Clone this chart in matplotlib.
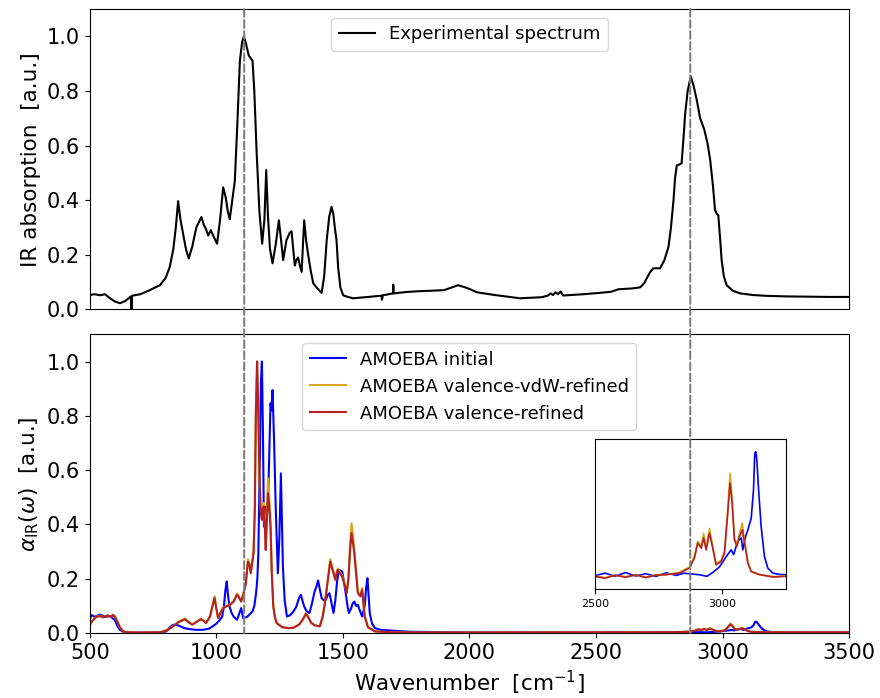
import matplotlib
matplotlib.use('Agg')
import matplotlib.pyplot as plt
from matplotlib.patches import ConnectionPatch

# experimental spectrum (top panel)
exp_x = [500, 520, 540, 560, 580, 600, 619, 640, 660, 664,
         665, 666, 670, 700, 737, 777, 800, 816, 830, 840,
         849, 858, 868, 880, 891, 905, 921, 941, 950, 958,
         968, 978, 990, 1003, 1015, 1027, 1037, 1045, 1053, 1063,
         1073, 1083, 1093, 1102, 1109, 1118, 1128, 1143, 1150, 1159,
         1170, 1181, 1190, 1197, 1204, 1212, 1222, 1235, 1247, 1255,
         1264, 1277, 1290, 1297, 1304, 1310, 1316, 1323, 1330, 1337,
         1347, 1355, 1363, 1373, 1383, 1400, 1416, 1426, 1436, 1446,
         1455, 1462, 1468, 1475, 1481, 1490, 1501, 1520, 1540, 1600,
         1653, 1654, 1658, 1698, 1699, 1700, 1750, 1800, 1856, 1900,
         1930, 1955, 1990, 2030, 2100, 2150, 2200, 2285, 2310, 2320,
         2330, 2340, 2350, 2360, 2370, 2384, 2450, 2516, 2560, 2588,
         2640, 2674, 2690, 2700, 2713, 2726, 2740, 2753, 2770, 2786,
         2796, 2806, 2812, 2819, 2828, 2838, 2845, 2852, 2862, 2874,
         2885, 2898, 2911, 2927, 2940, 2951, 2962, 2970, 2977, 2983,
         2990, 2996, 3005, 3016, 3040, 3069, 3120, 3174, 3250, 3350,
         3420, 3500]
exp_y = [0.052, 0.055, 0.051, 0.055, 0.040, 0.028, 0.022, 0.030, 0.045, 0.047,
         0.0, 0.047, 0.050, 0.055, 0.070, 0.088, 0.115, 0.155, 0.220, 0.300,
         0.396, 0.330, 0.280, 0.220, 0.186, 0.230, 0.300, 0.338, 0.310, 0.296,
         0.270, 0.290, 0.265, 0.240, 0.330, 0.447, 0.410, 0.360, 0.330, 0.400,
         0.470, 0.680, 0.910, 0.980, 1.000, 0.970, 0.930, 0.910, 0.800, 0.580,
         0.360, 0.240, 0.330, 0.510, 0.340, 0.220, 0.168, 0.240, 0.326, 0.260,
         0.180, 0.253, 0.280, 0.286, 0.220, 0.160, 0.180, 0.190, 0.160, 0.137,
         0.326, 0.250, 0.198, 0.140, 0.095, 0.075, 0.060, 0.120, 0.253, 0.340,
         0.375, 0.350, 0.300, 0.250, 0.155, 0.080, 0.051, 0.045, 0.040, 0.045,
         0.050, 0.035, 0.051, 0.058, 0.090, 0.058, 0.063, 0.066, 0.068, 0.070,
         0.080, 0.088, 0.078, 0.062, 0.052, 0.046, 0.040, 0.044, 0.050, 0.058,
         0.052, 0.062, 0.055, 0.065, 0.050, 0.051, 0.055, 0.060, 0.064, 0.073,
         0.076, 0.080, 0.095, 0.113, 0.135, 0.150, 0.150, 0.150, 0.180, 0.228,
         0.300, 0.400, 0.480, 0.527, 0.530, 0.535, 0.620, 0.717, 0.800, 0.853,
         0.820, 0.766, 0.700, 0.660, 0.610, 0.546, 0.450, 0.363, 0.350, 0.344,
         0.260, 0.180, 0.120, 0.088, 0.068, 0.058, 0.052, 0.049, 0.047, 0.046,
         0.045, 0.045]

# AMOEBA initial (blue)
ini_x = [500, 507, 520, 540, 560, 580, 598, 610, 619, 635,
         646, 700, 780, 802, 815, 830, 845, 857, 875, 891,
         920, 946, 970, 986, 1000, 1014, 1023, 1030, 1036, 1041,
         1046, 1052, 1060, 1068, 1075, 1082, 1090, 1098, 1106, 1115,
         1123, 1133, 1143, 1150, 1157, 1162, 1166, 1172, 1176, 1180,
         1184, 1188, 1192, 1196, 1200, 1204, 1208, 1214, 1218, 1222,
         1225, 1228, 1235, 1243, 1249, 1255, 1259, 1263, 1270, 1279,
         1290, 1300, 1315, 1327, 1334, 1340, 1347, 1357, 1368, 1378,
         1388, 1395, 1402, 1409, 1416, 1425, 1433, 1440, 1447, 1455,
         1463, 1470, 1477, 1484, 1490, 1497, 1504, 1511, 1518, 1524,
         1532, 1539, 1545, 1552, 1559, 1566, 1576, 1586, 1592, 1597,
         1602, 1606, 1615, 1627, 1650, 1695, 1763, 1850, 2000, 2500,
         2540, 2580, 2620, 2660, 2700, 2740, 2780, 2820, 2850, 2872,
         2911, 2940, 2963, 2990, 3016, 3035, 3045, 3061, 3075, 3081,
         3092, 3101, 3114, 3123, 3128, 3132, 3136, 3143, 3153, 3166,
         3179, 3199, 3225, 3250, 3350, 3500]
ini_y = [0.050, 0.066, 0.060, 0.068, 0.060, 0.062, 0.049, 0.025, 0.012, 0.004,
         0.002, 0.002, 0.003, 0.006, 0.020, 0.031, 0.030, 0.025, 0.018, 0.015,
         0.012, 0.012, 0.016, 0.025, 0.035, 0.049, 0.060, 0.098, 0.160, 0.190,
         0.140, 0.098, 0.075, 0.061, 0.055, 0.049, 0.070, 0.092, 0.055, 0.058,
         0.061, 0.070, 0.080, 0.100, 0.147, 0.200, 0.294, 0.650, 0.920, 1.000,
         0.750, 0.392, 0.450, 0.466, 0.440, 0.466, 0.620, 0.846, 0.820, 0.895,
         0.800, 0.711, 0.450, 0.220, 0.350, 0.588, 0.420, 0.245, 0.120, 0.061,
         0.065, 0.074, 0.095, 0.130, 0.141, 0.120, 0.098, 0.080, 0.074, 0.110,
         0.153, 0.170, 0.194, 0.160, 0.129, 0.120, 0.123, 0.140, 0.147, 0.110,
         0.074, 0.120, 0.190, 0.233, 0.230, 0.227, 0.190, 0.147, 0.100, 0.074,
         0.090, 0.110, 0.116, 0.100, 0.104, 0.085, 0.061, 0.100, 0.170, 0.202,
         0.130, 0.074, 0.035, 0.018, 0.012, 0.009, 0.005, 0.004, 0.003, 0.0032,
         0.0040, 0.0030, 0.0042, 0.0031, 0.0038, 0.0030, 0.0041, 0.0033, 0.0040, 0.0038,
         0.0035, 0.0030, 0.0042, 0.0060, 0.0092, 0.0113, 0.0098, 0.0140, 0.0150, 0.0113,
         0.0155, 0.0176, 0.0212, 0.0301, 0.0416, 0.0420, 0.0395, 0.0301, 0.0186, 0.0092,
         0.0056, 0.0040, 0.0036, 0.0035, 0.0030, 0.0030]

# valence-refined (red) and valence-vdW-refined (yellow), same grid
ref_x = [500, 510, 526, 540, 555, 570, 585, 591, 600, 610,
         620, 632, 650, 700, 780, 809, 830, 850, 877, 890,
         905, 920, 939, 950, 959, 975, 985, 993, 1000, 1007,
         1017, 1027, 1040, 1054, 1068, 1082, 1090, 1098, 1106, 1116,
         1125, 1131, 1136, 1142, 1147, 1152, 1156, 1161, 1165, 1170,
         1175, 1180, 1184, 1188, 1192, 1195, 1199, 1204, 1209, 1214,
         1219, 1225, 1231, 1238, 1260, 1286, 1305, 1327, 1342, 1354,
         1365, 1375, 1390, 1409, 1420, 1429, 1440, 1450, 1460, 1470,
         1475, 1480, 1488, 1497, 1506, 1515, 1522, 1528, 1534, 1540,
         1545, 1552, 1559, 1565, 1569, 1576, 1581, 1586, 1599, 1627,
         1700, 1763, 2000, 2500, 2540, 2580, 2620, 2660, 2700, 2740,
         2780, 2832, 2872, 2891, 2904, 2918, 2927, 2937, 2950, 2963,
         2976, 2996, 3009, 3022, 3031, 3039, 3048, 3058, 3068, 3079,
         3088, 3101, 3114, 3147, 3200, 3250, 3500]
ref_y = [0.030, 0.045, 0.060, 0.062, 0.058, 0.065, 0.060, 0.067, 0.060, 0.040,
         0.020, 0.006, 0.003, 0.002, 0.003, 0.012, 0.025, 0.040, 0.051, 0.040,
         0.031, 0.040, 0.051, 0.045, 0.037, 0.060, 0.100, 0.129, 0.090, 0.055,
         0.075, 0.092, 0.098, 0.104, 0.115, 0.141, 0.130, 0.116, 0.140, 0.178,
         0.263, 0.250, 0.220, 0.260, 0.294, 0.450, 0.800, 1.000, 0.850, 0.588,
         0.450, 0.417, 0.460, 0.466, 0.380, 0.306, 0.400, 0.515, 0.470, 0.392,
         0.220, 0.098, 0.060, 0.037, 0.022, 0.018, 0.020, 0.031, 0.050, 0.071,
         0.055, 0.037, 0.028, 0.025, 0.060, 0.110, 0.190, 0.263, 0.230, 0.196,
         0.220, 0.233, 0.220, 0.208, 0.180, 0.147, 0.200, 0.300, 0.368, 0.330,
         0.294, 0.220, 0.147, 0.140, 0.135, 0.159, 0.110, 0.061, 0.022, 0.006,
         0.003, 0.002, 0.002, 0.0030, 0.0024, 0.0034, 0.0027, 0.0035, 0.0026, 0.0034,
         0.0035, 0.0040, 0.0056, 0.0087, 0.0134, 0.0118, 0.0150, 0.0113, 0.0165, 0.0118,
         0.0066, 0.0077, 0.0103, 0.0228, 0.0322, 0.0259, 0.0145, 0.0124, 0.0155, 0.0176,
         0.0134, 0.0071, 0.0045, 0.0035, 0.0028, 0.0030, 0.0030]
vdw_y = [0.030, 0.045, 0.060, 0.064, 0.058, 0.066, 0.060, 0.068, 0.060, 0.040,
         0.020, 0.006, 0.003, 0.002, 0.003, 0.013, 0.026, 0.042, 0.054, 0.041,
         0.032, 0.041, 0.053, 0.046, 0.038, 0.062, 0.104, 0.136, 0.092, 0.056,
         0.076, 0.094, 0.100, 0.106, 0.118, 0.146, 0.132, 0.118, 0.143, 0.186,
         0.272, 0.255, 0.225, 0.265, 0.300, 0.460, 0.810, 1.000, 0.850, 0.590,
         0.455, 0.420, 0.470, 0.480, 0.390, 0.320, 0.440, 0.570, 0.500, 0.410,
         0.230, 0.100, 0.061, 0.038, 0.022, 0.018, 0.020, 0.032, 0.052, 0.074,
         0.056, 0.038, 0.028, 0.025, 0.062, 0.114, 0.198, 0.272, 0.236, 0.200,
         0.226, 0.238, 0.224, 0.212, 0.184, 0.150, 0.210, 0.320, 0.404, 0.360,
         0.305, 0.228, 0.152, 0.144, 0.140, 0.166, 0.114, 0.062, 0.022, 0.006,
         0.003, 0.002, 0.002, 0.0031, 0.0026, 0.0033, 0.0029, 0.0034, 0.0027, 0.0035,
         0.0036, 0.0042, 0.0060, 0.0095, 0.0140, 0.0125, 0.0165, 0.0120, 0.0180, 0.0125,
         0.0070, 0.0080, 0.0108, 0.0245, 0.0353, 0.0275, 0.0150, 0.0130, 0.0165, 0.0197,
         0.0140, 0.0075, 0.0046, 0.0036, 0.0029, 0.0031, 0.0030]

ref_lines = [1110, 2872]

fig = plt.figure(figsize=(8.8, 6.98), dpi=100)
ax1 = fig.add_axes([0.102, 0.557, 0.863, 0.430])
ax2 = fig.add_axes([0.102, 0.093, 0.863, 0.428])

ax1.plot(exp_x, exp_y, color='black', lw=1.5, label='Experimental spectrum')
ax1.set_xlim(500, 3500)
ax1.set_ylim(0, 1.1)
ax1.set_yticks([0.0, 0.2, 0.4, 0.6, 0.8, 1.0])
ax1.tick_params(labelsize=15)
ax1.tick_params(axis='x', bottom=False, labelbottom=False)
ax1.set_ylabel('IR absorption  [a.u.]', fontsize=15.5)
ax1.legend(loc='upper center', fontsize=13)

ax2.plot(ini_x, ini_y, color='blue', lw=1.5, label='AMOEBA initial')
ax2.plot(ref_x, vdw_y, color='goldenrod', lw=1.5, label='AMOEBA valence-vdW-refined')
ax2.plot(ref_x, ref_y, color='firebrick', lw=1.5, label='AMOEBA valence-refined')
ax2.set_xlim(500, 3500)
ax2.set_ylim(0, 1.1)
ax2.set_yticks([0.0, 0.2, 0.4, 0.6, 0.8, 1.0])
ax2.tick_params(labelsize=15)
ax2.set_xlabel('Wavenumber  [cm$^{-1}$]', fontsize=15.5)
ax2.set_ylabel(r'$\alpha_{\mathrm{IR}}(\omega)$  [a.u.]', fontsize=15.5)
ax2.legend(loc='upper center', fontsize=13)

# inset zoom on the C-H stretch region
axin = fig.add_axes([0.676, 0.156, 0.217, 0.215])
axin.plot(ini_x, ini_y, color='blue', lw=1.2)
axin.plot(ref_x, vdw_y, color='goldenrod', lw=1.2)
axin.plot(ref_x, ref_y, color='firebrick', lw=1.2)
axin.set_xlim(2500, 3250)
axin.set_ylim(-0.001, 0.046)
axin.set_xticks([2500, 3000])
axin.set_yticks([])
axin.tick_params(labelsize=8)

# dashed guides through both panels
for xv in ref_lines:
    con = ConnectionPatch(xyA=(xv, 1.1), coordsA=ax1.transData,
                          xyB=(xv, 0.0), coordsB=ax2.transData,
                          color='grey', ls='--', lw=1.5)
    fig.add_artist(con)

plt.savefig('out.png', dpi=100)
